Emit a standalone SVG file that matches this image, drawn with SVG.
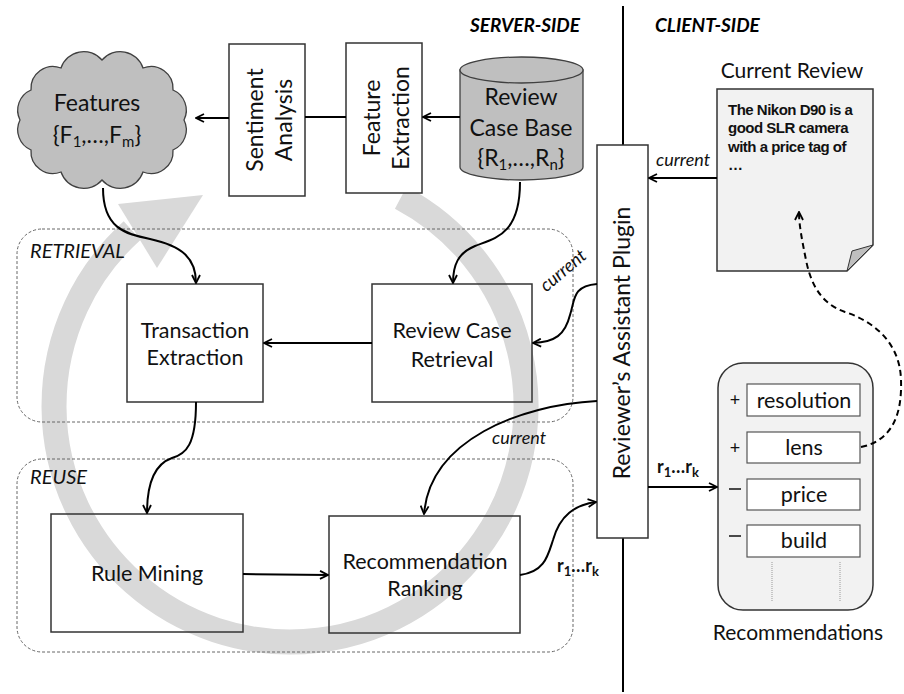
<svg xmlns="http://www.w3.org/2000/svg" width="904" height="694" viewBox="0 0 904 694">
<defs>
<style>
.t{font-family:Lato,"Open Sans",sans-serif;fill:#111;text-anchor:middle}
.box{fill:none;stroke:#333;stroke-width:1.5}
.grp{fill:none;stroke:#666;stroke-width:1;stroke-dasharray:3 2}
.c{fill:none;stroke:#000;stroke-width:2}
.it{font-family:Lato,"Open Sans",sans-serif;font-style:italic;fill:#111}
.hd{font-family:Lato,"Open Sans",sans-serif;font-style:italic;font-weight:bold;fill:#000;font-size:19px}
.rk{font-family:Lato,"Open Sans",sans-serif;font-weight:bold;fill:#111;font-size:18px}
.item{fill:#fff;stroke:#555;stroke-width:1.2}
</style>
<marker id="ah" viewBox="0 0 10 10" refX="9" refY="5" markerWidth="10" markerHeight="10" markerUnits="userSpaceOnUse" orient="auto">
<path d="M1,1 L9,5 L1,9" fill="none" stroke="#000" stroke-width="1.8"/>
</marker>
</defs>
<rect width="904" height="694" fill="#fff"/>

<!-- big cycle arrow -->
<g id="cycle">
<path d="M400.8,197.6 A236,236 0 1 1 132.1,230.6" fill="none" stroke="#d9d9d9" stroke-width="25"/>
<polygon points="118,204 203,195 157,268" fill="#d9d9d9"/>
</g>

<!-- divider -->
<line x1="623" y1="6" x2="623" y2="692" stroke="#000" stroke-width="2"/>
<text class="hd" x="470" y="32">SERVER-SIDE</text>
<text class="hd" x="655" y="32">CLIENT-SIDE</text>

<!-- groups -->
<g id="retrieval">
<rect class="grp" x="17" y="229" width="556" height="193" rx="25"/>
<text class="it" x="30" y="258" font-size="20">RETRIEVAL</text>
</g>
<g id="reuse">
<rect class="grp" x="17" y="459" width="556" height="193" rx="25"/>
<text class="it" x="30" y="484" font-size="20">REUSE</text>
</g>

<!-- nodes -->
<g id="features">
<path d="M184,120 A22,22 0 0 1 173,150 A22,22 0 0 1 143,172 A24,24 0 0 1 102,180 A24,24 0 0 1 61,172 A22,22 0 0 1 31,150 A22,22 0 0 1 20,120 A22,22 0 0 1 31,90 A22,22 0 0 1 61,68 A24,24 0 0 1 102,60 A24,24 0 0 1 143,68 A22,22 0 0 1 173,90 A22,22 0 0 1 184,120 Z" fill="#bfbfbf" stroke="#404040" stroke-width="1.3"/>
<text class="t" x="97" y="111" font-size="23">Features</text>
<text class="t" x="97" y="143" font-size="23">{F<tspan font-size="15" dy="4">1</tspan><tspan dy="-4">,…,F</tspan><tspan font-size="15" dy="4">m</tspan><tspan dy="-4">}</tspan></text>
</g>

<g id="sentiment">
<rect x="229" y="44" width="76" height="152" fill="#fff" stroke="#333" stroke-width="1.5"/>
<text class="t" font-size="23" transform="translate(263,120) rotate(-90)">Sentiment</text>
<text class="t" font-size="23" transform="translate(292,120) rotate(-90)">Analysis</text>
</g>

<g id="featext">
<rect x="346" y="43" width="76" height="150" fill="#fff" stroke="#333" stroke-width="1.5"/>
<text class="t" font-size="23" transform="translate(380,118) rotate(-90)">Feature</text>
<text class="t" font-size="23" transform="translate(409,118) rotate(-90)">Extraction</text>
</g>

<g id="casebase">
<path d="M460,70 L460,167 A61.5,13 0 0 0 583,167 L583,70 Z" fill="#bfbfbf" stroke="#404040" stroke-width="1.3"/>
<ellipse cx="521.5" cy="70" rx="61.5" ry="13" fill="#bfbfbf" stroke="#404040" stroke-width="1.3"/>
<text class="t" x="521" y="105" font-size="23">Review</text>
<text class="t" x="521" y="136" font-size="23">Case Base</text>
<text class="t" x="521" y="166" font-size="23">{R<tspan font-size="15" dy="4">1</tspan><tspan dy="-4">,…,R</tspan><tspan font-size="15" dy="4">n</tspan><tspan dy="-4">}</tspan></text>
</g>

<g id="transaction">
<rect class="box" x="127" y="284" width="136" height="118"/>
<text class="t" x="195" y="338" font-size="21.5">Transaction</text>
<text class="t" x="195" y="365" font-size="21.5">Extraction</text>
</g>

<g id="caseretrieval">
<rect class="box" x="372" y="284" width="160" height="118"/>
<text class="t" x="452" y="338" font-size="21.5">Review Case</text>
<text class="t" x="452" y="367" font-size="21.5">Retrieval</text>
</g>

<g id="rulemining">
<rect class="box" x="51" y="514" width="192" height="118"/>
<text class="t" x="147" y="581" font-size="21.5">Rule Mining</text>
</g>

<g id="ranking">
<rect class="box" x="329" y="516" width="191" height="117"/>
<text class="t" x="425" y="569" font-size="21.5">Recommendation</text>
<text class="t" x="425" y="596" font-size="21.5">Ranking</text>
</g>

<g id="plugin">
<rect x="597" y="145" width="51" height="393" fill="#fff" stroke="#333" stroke-width="1.5"/>
<text class="t" font-size="23" transform="translate(630,343) rotate(-90)">Reviewer’s Assistant Plugin</text>
</g>

<g id="currentreview">
<text class="t" x="792" y="78" font-size="21">Current Review</text>
<path d="M717,89 L873,89 L873,245 L847,271 L717,271 Z" fill="#f2f2f2" stroke="#333" stroke-width="1.5"/>
<path d="M873,245 L852,251 L847,271 Z" fill="#bfbfbf" stroke="#333" stroke-width="1"/>
<g font-family="'Liberation Sans',Arial,sans-serif" font-weight="bold" font-size="15" letter-spacing="-0.5" fill="#111">
<text x="728" y="115">The Nikon D90 is a</text>
<text x="728" y="133">good SLR camera</text>
<text x="728" y="152">with a price tag of</text>
<text x="728" y="170">…</text>
</g>
</g>

<g id="recommendations">
<rect x="718" y="363" width="155" height="247" rx="25" fill="#f2f2f2" stroke="#333" stroke-width="1.5"/>
<rect class="item" x="747" y="384" width="113" height="32"/>
<rect class="item" x="747" y="432" width="113" height="31"/>
<rect class="item" x="747" y="479" width="113" height="31"/>
<rect class="item" x="747" y="525" width="113" height="32"/>
<text class="t" x="804" y="408" font-size="21.5">resolution</text>
<text class="t" x="804" y="455" font-size="21.5">lens</text>
<text class="t" x="804" y="502" font-size="21.5">price</text>
<text class="t" x="804" y="548" font-size="21.5">build</text>
<text class="t" x="735" y="406" font-size="18">+</text>
<text class="t" x="735" y="454" font-size="18">+</text>
<line x1="729" y1="489" x2="741" y2="489" stroke="#111" stroke-width="1.5"/>
<line x1="729" y1="536" x2="741" y2="536" stroke="#111" stroke-width="1.5"/>
<line x1="772" y1="562" x2="772" y2="602" stroke="#999" stroke-width="1" stroke-dasharray="1 1"/>
<line x1="840" y1="562" x2="840" y2="602" stroke="#999" stroke-width="1" stroke-dasharray="1 1"/>
<text class="t" x="798" y="640" font-size="21">Recommendations</text>
</g>

<!-- connectors -->
<g id="connectors">
<path class="c" d="M460,117 L423,117" marker-end="url(#ah)"/>
<path class="c" d="M346,117 L305,117"/>
<path class="c" d="M229,118 L196,118" marker-end="url(#ah)"/>
<path class="c" d="M103,188 C103,228 125,234 150,239 C182,246 196,258 196,283" marker-end="url(#ah)"/>
<path class="c" d="M520,182 C520,235 495,238 475,246 C458,253 453,265 453,283" marker-end="url(#ah)"/>
<path class="c" d="M372,343 L264,343" marker-end="url(#ah)"/>
<path class="c" d="M597,284 C572,286 575,300 570,315 C565,335 555,342 533,343" marker-end="url(#ah)"/>
<path class="c" d="M196,402 C196,445 186,454 172,458 C152,465 147,488 147,513" marker-end="url(#ah)"/>
<path class="c" d="M597,401 C520,405 430,440 424,514" marker-end="url(#ah)"/>
<path class="c" d="M243,574 L328,575" marker-end="url(#ah)"/>
<path class="c" d="M520,575 C545,572 548,555 553,540 C560,515 575,505 596,502" marker-end="url(#ah)"/>
<path class="c" d="M717,178 L649,178" marker-end="url(#ah)"/>
<path class="c" d="M648,487 L717,487" marker-end="url(#ah)"/>
<path class="c" d="M861,447 C895,440 902,410 901,380 C900,340 870,320 845,312 C825,305 812,290 806,260 C802,240 799,225 799,212" stroke-dasharray="6 4" marker-end="url(#ah)"/>
</g>

<!-- connector labels -->
<text class="it" x="656" y="166" font-size="18">current</text>
<text class="it" font-size="18" text-anchor="middle" transform="translate(567,275) rotate(-40)">current</text>
<text class="it" x="492" y="444" font-size="18">current</text>
<text class="rk" x="657" y="473">r<tspan font-size="13" dy="4">1</tspan><tspan dy="-4">…r</tspan><tspan font-size="13" dy="4">k</tspan></text>
<text class="rk" x="557" y="572">r<tspan font-size="13" dy="4">1</tspan><tspan dy="-4">…r</tspan><tspan font-size="13" dy="4">k</tspan></text>
</svg>
